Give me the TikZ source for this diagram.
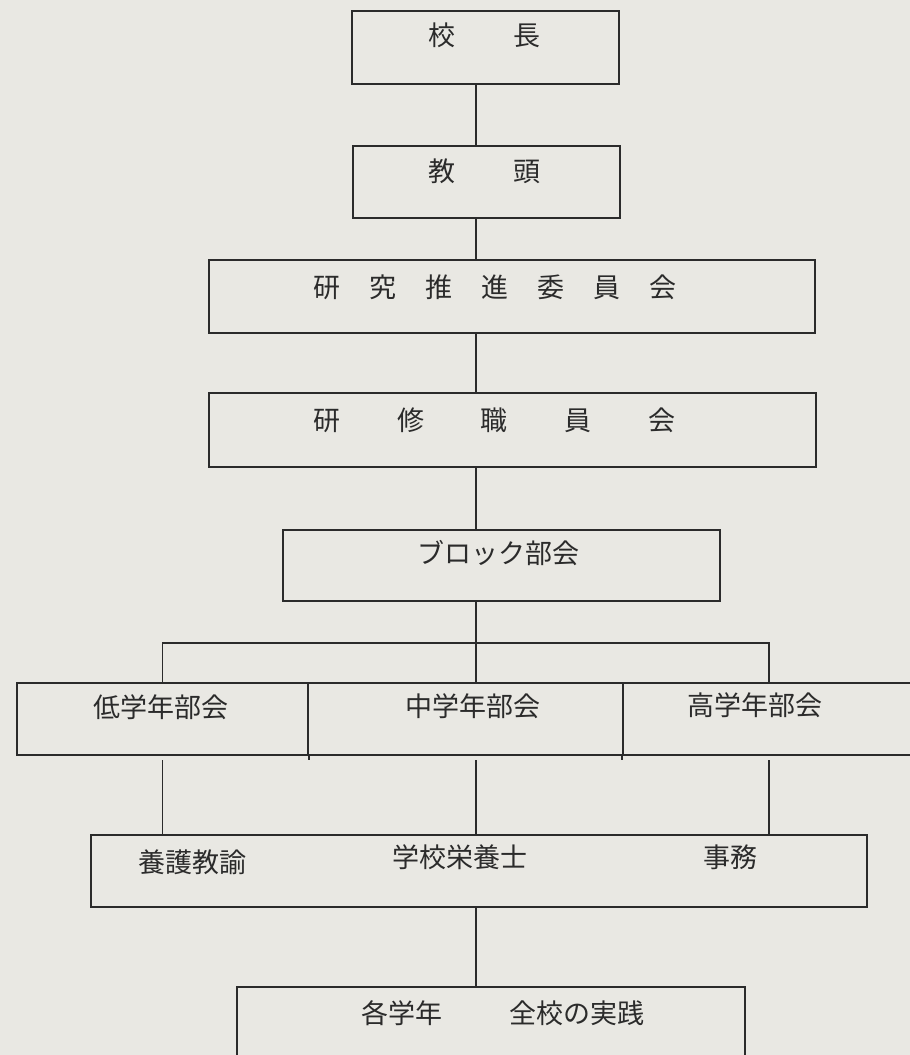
\documentclass[tikz,border=0pt]{standalone}
\usepackage{fontspec}
\newfontfamily\jp{Noto Sans CJK JP}
\definecolor{paper}{HTML}{E9E8E3}
\definecolor{ink}{HTML}{2B2B2B}
\begin{document}
\begin{tikzpicture}[x=1pt,y=-1pt,
  box/.style={draw=ink, line width=2pt, rectangle, inner sep=0pt},
  lbl/.style={text=ink, inner sep=0pt, font=\jp\fontsize{27}{30}\selectfont},
  link/.style={draw=ink, line width=1.7pt}]
\fill[paper] (0,0) rectangle (910,1055);
\useasboundingbox (0,0) rectangle (910,1055);
\clip (0,0) rectangle (910,1055);
\coordinate (spine) at (476,0);
% boxes
\node[box, minimum width=267pt, minimum height=73pt] (head) at (485.5,47.5) {};
\node[box, minimum width=267pt, minimum height=72pt] (vice) at (486.5,182) {};
\node[box, minimum width=606pt, minimum height=73pt] (committee) at (512,296.5) {};
\node[box, minimum width=607pt, minimum height=74pt] (training) at (512.5,430) {};
\node[box, minimum width=437pt, minimum height=71pt] (block) at (501.5,565.5) {};
\node[box, minimum width=291pt, minimum height=72pt] (low) at (162.5,719) {};
\node[box, minimum width=315pt, minimum height=72pt] (mid) at (465.5,719) {};
\node[box, minimum width=292pt, minimum height=72pt] (high) at (769,719) {};
\node[box, minimum width=776pt, minimum height=72pt] (staff) at (479,871) {};
\node[box, minimum width=508pt, minimum height=80pt] (practice) at (491,1027) {};
% labels
\node[lbl] (t-head) at (484,35) {校\hspace{58pt}長};
\node[lbl] (t-vice) at (484,171) {教\hspace{58pt}頭};
\node[lbl] (t-committee) at (495,287) {研\hspace{29pt}究\hspace{29pt}推\hspace{29pt}進\hspace{29pt}委\hspace{29pt}員\hspace{29pt}会};
\node[lbl] (t-training) at (494.5,420) {研\hspace{57pt}修\hspace{57pt}職\hspace{57pt}員\hspace{57pt}会};
\node[lbl] (t-block) at (498,553) {ブロック部会};
\node[lbl] (t-low) at (161,707) {低学年部会};
\node[lbl] (t-mid) at (473,706) {中学年部会};
\node[lbl] (t-high) at (755,705) {高学年部会};
\node[lbl] (t-nurse) at (192,862) {養護教諭};
\node[lbl] (t-diet) at (460,857) {学校栄養士};
\node[lbl] (t-office) at (730,857) {事務};
\node[lbl] (t-grade) at (402,1013) {各学年};
\node[lbl] (t-school) at (577,1013) {全校の実践};
% connectors
\draw[link] (head.south -| spine) -- (vice.north -| spine);
\draw[link] (vice.south -| spine) -- (committee.north -| spine);
\draw[link] (committee.south -| spine) -- (training.north -| spine);
\draw[link] (training.south -| spine) -- (block.north -| spine);
\coordinate (bar) at (476,643);
\draw[link] (block.south -| spine) -- (bar) -- (mid.north -| spine);
\draw[link] (low.north) -- (low.north |- bar) -- (high.north |- bar) -- (high.north);
% divider ticks below row
\draw[link] (low.south east) -- ++(0,4);
\draw[link] (high.south west) -- ++(0,4);
% row to staff
\draw[link] ([yshift=-4pt]low.south) -- (low.south |- staff.north);
\draw[link] ([yshift=-4pt]mid.south -| spine) -- (staff.north -| spine);
\draw[link] ([yshift=-4pt]high.south) -- (high.south |- staff.north);
% staff to practice
\draw[link] (staff.south -| spine) -- (practice.north -| spine);
\end{tikzpicture}
\end{document}
